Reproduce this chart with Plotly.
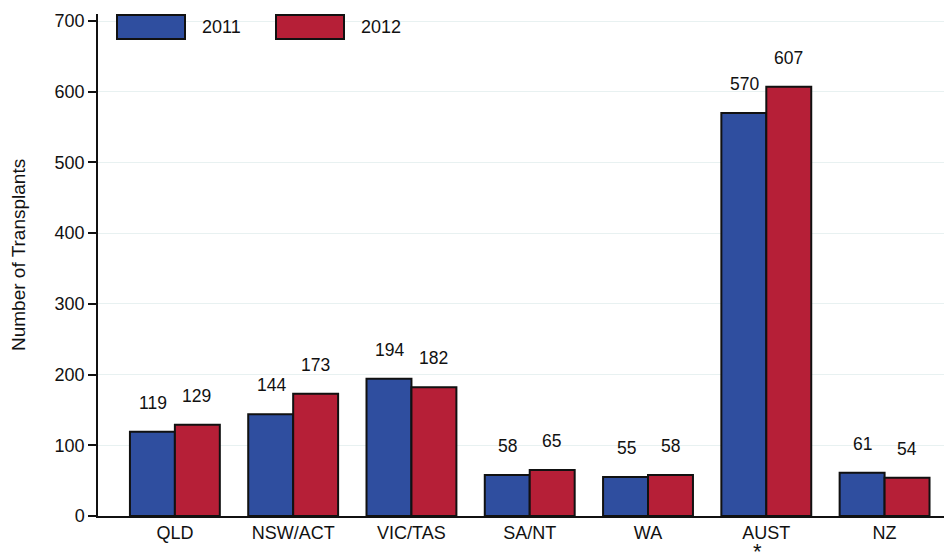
import plotly.graph_objects as go

categories = ["QLD", "NSW/ACT", "VIC/TAS", "SA/NT", "WA", "AUST", "NZ"]
values_2011 = [119, 144, 194, 58, 55, 570, 61]
values_2012 = [129, 173, 182, 65, 58, 607, 54]
series_names = ["2011", "2012"]
tick_vals = [0, 100, 200, 300, 400, 500, 600, 700]

blue = "#2f4e9f"
red = "#b61f37"
font = "Liberation Sans, Arial, sans-serif"

# page body has an 8px margin; figure is placed at (8, 8)
OFF = 8
W, H = 952 - OFF, 554 - OFF
L, T, B = 98 - OFF, 14 - OFF, 38
PW = W - L
PH = H - T - B

fig = go.Figure()
fig.add_trace(go.Bar(x=categories, y=values_2011, name=series_names[0],
                     marker=dict(color=blue, line=dict(color="#111", width=2))))
fig.add_trace(go.Bar(x=categories, y=values_2012, name=series_names[1],
                     marker=dict(color=red, line=dict(color="#111", width=2))))

annotations = []
for c, v in zip(categories, values_2011):
    annotations.append(dict(x=c, y=v, xshift=-22, yshift=29, text=str(v), showarrow=False,
                            font=dict(size=17.5, color="#111", family=font)))
for c, v in zip(categories, values_2012):
    annotations.append(dict(x=c, y=v, xshift=22, yshift=29, text=str(v), showarrow=False,
                            font=dict(size=17.5, color="#111", family=font)))
# asterisk under AUST
annotations.append(dict(x="AUST", y=0, xshift=-9, yshift=-35, text="*", showarrow=False,
                        yanchor="middle",
                        font=dict(size=22, color="#111", family=font)))
# y-axis title
annotations.append(dict(xref="paper", yref="paper", x=(18 - 98) / PW, y=(516 - 255) / PH,
                        text="Number of Transplants", textangle=-90, showarrow=False,
                        xanchor="center", yanchor="middle",
                        font=dict(size=19, color="#111", family=font)))

# custom legend (page pixel positions)
shapes = []
leg = [(117, 185, blue, series_names[0], 200), (276, 344, red, series_names[1], 359)]
for x0, x1, col, name, tx in leg:
    shapes.append(dict(type="rect", xref="paper", yref="paper",
                       x0=(x0 - 98) / PW, x1=(x1 - 98) / PW,
                       y0=(516 - 39) / PH, y1=(516 - 15) / PH,
                       fillcolor=col, line=dict(color="#111", width=2)))
    annotations.append(dict(xref="paper", yref="paper", x=(tx - 98) / PW,
                            y=(516 - 27) / PH, text=name, showarrow=False,
                            xanchor="left", yanchor="middle",
                            font=dict(size=18, color="#111", family=font)))

fig.update_layout(
    width=W, height=H,
    margin=dict(l=L, r=0, t=T, b=B, pad=0),
    paper_bgcolor="white", plot_bgcolor="white",
    barmode="group", bargap=0.24, bargroupgap=0,
    showlegend=False,
    font=dict(family=font, size=18, color="#111"),
    annotations=annotations, shapes=shapes,
    xaxis=dict(range=[-0.65, 6.57], showline=True, linecolor="#111", linewidth=1.5,
               ticks="", tickfont=dict(size=18), showgrid=False),
    yaxis=dict(range=[0, 710], tickvals=tick_vals, ticks="outside", ticklen=8,
               tickcolor="#111", tickwidth=1.5, showline=True, linecolor="#111", linewidth=1.5,
               showgrid=True, gridcolor="#e8f1f1", gridwidth=1, zeroline=False,
               tickfont=dict(size=18)),
)

fig.write_html("out.html")
